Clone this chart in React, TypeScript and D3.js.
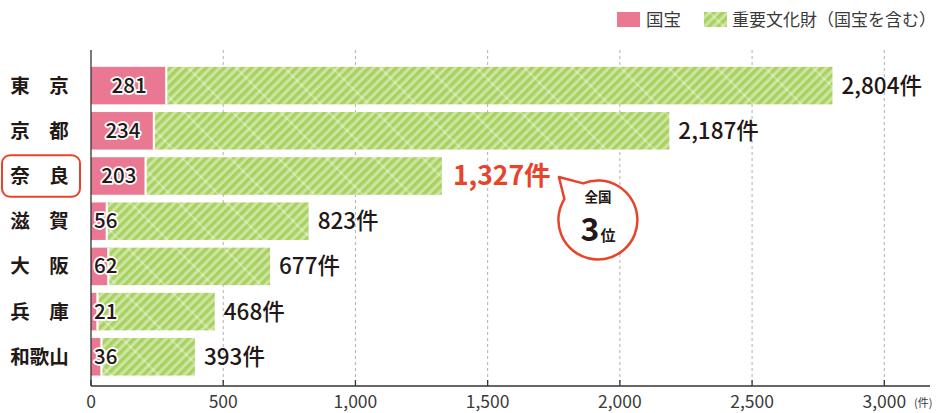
import React from "react";
import * as d3 from "d3";

const categories = ["東京", "京都", "奈良", "滋賀", "大阪", "兵庫", "和歌山"];
const kokuho = [281, 234, 203, 56, 62, 21, 36];
const totals = [2804, 2187, 1327, 823, 677, 468, 393];
const xTicks = [0, 500, 1000, 1500, 2000, 2500, 3000];
const highlight = "奈良";
const legendLabels = ["国宝", "重要文化財（国宝を含む）"];

const W = 938;
const H = 413;
const PINK = "#ea7893";
const RED = "#e8432b";
const INK = "#231815";
const FONT = "'Noto Sans CJK JP', 'Noto Sans', sans-serif";

export default function App() {
  const x = d3.scaleLinear().domain([0, 3000]).range([91, 884.3]);
  const y = d3
    .scaleBand<string>()
    .domain(categories)
    .range([63, 379.4])
    .paddingInner(0.17)
    .paddingOuter(0.085);
  const axisY = 386;
  const topY = 50;
  const fmt = d3.format(",");
  const bw = y.bandwidth();

  const hi = categories.indexOf(highlight);
  const hiLabelX = x(totals[hi]) + 10;
  const cc = { x: hiLabelX + 146, y: 220 };
  const r = 39.5;
  const tip = { x: cc.x - 39, y: 177 };
  const pa = (deg: number) => ({
    x: cc.x + r * Math.cos((deg * Math.PI) / 180),
    y: cc.y + r * Math.sin((deg * Math.PI) / 180),
  });
  const b1 = pa(-112);
  const b2 = pa(-148);
  const calloutPath = `M${b1.x},${b1.y} A${r},${r} 0 1 1 ${b2.x},${b2.y} L${tip.x},${tip.y} Z`;

  return (
    <div style={{ position: "absolute", left: 0, top: 0 }}>
      <svg width={W} height={H} style={{ display: "block", background: "#fff", fontFamily: FONT }}>
        <defs>
          <pattern
            id="stripe"
            patternUnits="userSpaceOnUse"
            width={6.4}
            height={34}
            patternTransform="rotate(45)"
          >
            <rect x={0} y={0} width={6.4} height={34} fill="#cde5a3" />
            <rect x={0} y={0} width={3.3} height={34} fill="#a8d15e" />
            <line x1={0} x2={6.4} y1={17} y2={17} stroke="#fff" strokeWidth={0.8} strokeOpacity={0.7} />
          </pattern>
        </defs>

        {/* legend */}
        <rect x={617} y={12} width={23} height={15} fill={PINK} />
        <text x={646} y={25.5} fontSize={17.5} fill="#3a3a3a">{legendLabels[0]}</text>
        <rect x={704} y={12} width={23} height={15} fill="url(#stripe)" />
        <text x={732} y={25.5} fontSize={17} fill="#3a3a3a">{legendLabels[1]}</text>

        {/* gridlines */}
        {xTicks.slice(1).map((t) => (
          <line
            key={"g" + t}
            x1={x(t)}
            x2={x(t)}
            y1={topY}
            y2={axisY}
            stroke="#b0b0b0"
            strokeWidth={1}
            strokeDasharray="3,3"
          />
        ))}

        {/* bars */}
        {categories.map((c, i) => {
          const y0 = y(c)!;
          const x0 = x(0);
          const xp = x(kokuho[i]);
          const xt = x(totals[i]);
          return (
            <g key={c}>
              <rect x={xp} y={y0} width={xt - xp} height={bw} fill="url(#stripe)" />
              <rect x={x0} y={y0} width={xp - x0} height={bw} fill={PINK} />
              <line x1={xp + 1} x2={xp + 1} y1={y0} y2={y0 + bw} stroke="#fff" strokeWidth={2} />
            </g>
          );
        })}

        {/* kokuho labels */}
        {categories.map((c, i) => {
          const w = x(kokuho[i]) - x(0);
          const s = String(kokuho[i]);
          const tw = s.length * 11.5;
          const centered = w > tw + 8;
          const cx = centered ? x(0) + w / 2 + 1 : x(0) + 3;
          return (
            <text
              key={"k" + c}
              x={cx}
              y={y(c)! + bw / 2 + 7}
              textAnchor={centered ? "middle" : "start"}
              fontSize={20.5}
              fontWeight={500}
              fill={INK}
              stroke="#fff"
              strokeWidth={3.5}
              strokeLinejoin="round"
              style={{ paintOrder: "stroke" }}
            >
              {s}
            </text>
          );
        })}

        {/* total labels */}
        {categories.map((c, i) => {
          const isHi = c === highlight;
          return (
            <text
              key={"t" + c}
              x={x(totals[i]) + (isHi ? 11 : 9)}
              y={y(c)! + bw / 2 + (isHi ? 9 : 8)}
              fontSize={isHi ? 26.5 : 22.5}
              fontWeight={isHi ? 700 : 500}
              fill={isHi ? RED : INK}
            >
              {fmt(totals[i]) + "件"}
            </text>
          );
        })}

        {/* category labels */}
        {categories.map((c) => {
          const chars = Array.from(c);
          const n = chars.length;
          return (
            <g key={"c" + c}>
              {chars.map((ch, j) => (
                <text
                  key={j}
                  x={n === 1 ? 40 : 20 + (j * 39) / (n - 1)}
                  y={y(c)! + bw / 2 + 7}
                  textAnchor="middle"
                  fontSize={19.5}
                  fontWeight={700}
                  fill={INK}
                >
                  {ch}
                </text>
              ))}
            </g>
          );
        })}

        {/* highlight box */}
        <rect
          x={2}
          y={y(highlight)! - 2}
          width={78}
          height={bw + 4}
          rx={8}
          fill="none"
          stroke={RED}
          strokeWidth={2}
        />

        {/* callout */}
        <path d={calloutPath} fill="#fff" stroke={RED} strokeWidth={2.5} strokeLinejoin="round" />
        <text x={cc.x} y={cc.y - 18} textAnchor="middle" fontSize={13.5} fontWeight={700} fill={INK}>
          全国
        </text>
        <text x={cc.x - 8} y={cc.y + 21} textAnchor="middle" fontSize={32} fontWeight={700} fill={INK}>
          3
        </text>
        <text x={cc.x + 10} y={cc.y + 21} textAnchor="middle" fontSize={15} fontWeight={700} fill={INK}>
          位
        </text>

        {/* axes */}
        <line x1={x(0)} x2={x(0)} y1={topY} y2={axisY} stroke="#333" strokeWidth={1.3} />
        <line x1={x(0)} x2={930} y1={axisY} y2={axisY} stroke="#333" strokeWidth={1.3} />
        {xTicks.map((t) => (
          <g key={"x" + t}>
            <line x1={x(t)} x2={x(t)} y1={axisY - 6} y2={axisY} stroke="#333" strokeWidth={1.3} />
            <text x={x(t)} y={axisY + 22} textAnchor="middle" fontSize={17.5} fill="#3a3a3a">
              {fmt(t)}
            </text>
          </g>
        ))}
        <text x={914} y={axisY + 21} fontSize={11} fill="#3a3a3a">(件)</text>
      </svg>
    </div>
  );
}
